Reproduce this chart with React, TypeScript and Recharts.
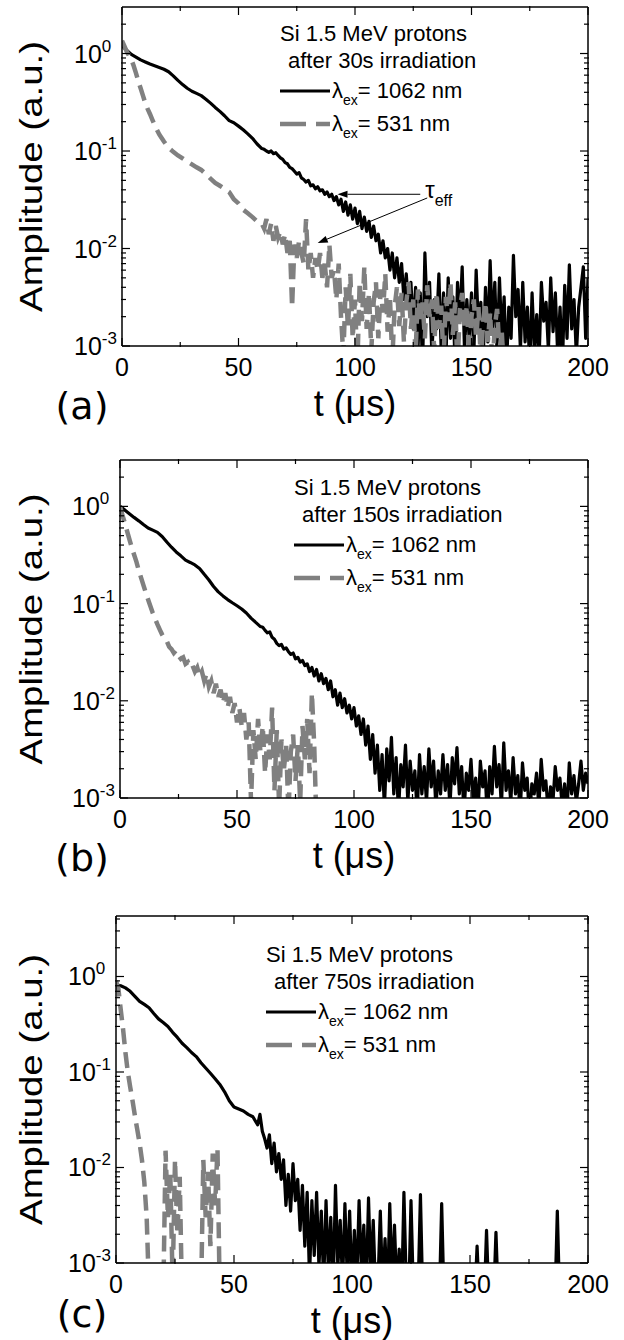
import { LineChart, Line, XAxis, YAxis, Legend, Label, ReferenceLine } from "recharts";

const FONT = '"Liberation Sans", Arial, Helvetica, sans-serif';
const W = 624;
const H = 440;

// ticks
const X_MAJOR = [0, 50, 100, 150, 200];
const X_MINOR = [25, 75, 125, 175];
const Y_MAJOR = [0.001, 0.01, 0.1, 1];
const Y_MINOR = [
  0.002, 0.003, 0.004, 0.005, 0.006, 0.007, 0.008, 0.009,
  0.02, 0.03, 0.04, 0.05, 0.06, 0.07, 0.08, 0.09,
  0.2, 0.3, 0.4, 0.5, 0.6, 0.7, 0.8, 0.9,
  2, 3, 4,
];

type Pt = { t: number; a: number };
const pairs = (p: number[][]): Pt[] => p.map(([t, a]) => ({ t, a }));
const steps = (t0: number, vals: number[]): Pt[] => vals.map((a, i) => ({ t: t0 + i, a }));

// ---------- (a) 30 s ----------
const A1062_head = [
  [0, 1.2], [2, 1.08], [4, 0.98], [6, 0.92], [8, 0.86], [10, 0.82], [12, 0.78], [14, 0.75], [16, 0.72],
  [18, 0.69], [20, 0.65], [22, 0.59], [24, 0.53], [26, 0.48], [28, 0.44], [30, 0.41], [32, 0.39], [34, 0.37],
  [36, 0.34], [38, 0.31], [40, 0.28], [42, 0.255], [44, 0.23], [46, 0.205], [48, 0.195], [50, 0.18],
  [52, 0.165], [54, 0.15], [56, 0.135], [58, 0.118], [60, 0.106],
];
const A1062_tail = [
  0.104, 0.1, 0.097, 0.1, 0.094, 0.096, 0.09, 0.085, 0.082, 0.076,
  0.074, 0.068, 0.066, 0.062, 0.058, 0.06, 0.053, 0.051, 0.048, 0.05,
  0.044, 0.045, 0.041, 0.043, 0.039, 0.04, 0.036, 0.038, 0.034, 0.036,
  0.031, 0.034, 0.028, 0.032, 0.024, 0.03, 0.022, 0.028, 0.02, 0.026,
  0.018, 0.024, 0.016, 0.021, 0.015, 0.019, 0.013, 0.017, 0.012, 0.014,
  0.009, 0.012, 0.008, 0.01, 0.006, 0.009, 0.005, 0.008, 0.0045, 0.007,
  0.003, 0.0055, 0.0025, 0.0045, 0.0015, 0.004, 0.0009, 0.0035, 0.0006, 0.009,
  0.002, 0.0045, 0.0008, 0.003, 0.0015, 0.0055, 0.0009, 0.0035, 0.0007, 0.005,
  0.0012, 0.0032, 0.0006, 0.0045, 0.0018, 0.0065, 0.0009, 0.003, 0.0012, 0.0035,
  0.0008, 0.006, 0.0015, 0.0028, 0.0007, 0.004, 0.0011, 0.0075, 0.0015, 0.0045,
  0.0008, 0.005, 0.0012, 0.0032, 0.0006, 0.0025, 0.0012, 0.0085, 0.002, 0.0038,
  0.0009, 0.0045, 0.0011, 0.0025, 0.0006, 0.0035, 0.0009, 0.0021, 0.0007, 0.0045,
  0.0018, 0.0028, 0.0009, 0.005, 0.0014, 0.0035, 0.0008, 0.0025, 0.0006, 0.0042,
  0.0012, 0.0068, 0.0015, 0.003, 0.0008, 0.0025, 0.004, 0.0065, 0.0012, 0.005,
];
const A531_head = [
  [0, 1.35], [1, 1.2], [2, 1.05], [3, 0.95], [4, 0.87], [5, 0.75], [6, 0.63], [7, 0.52], [8, 0.44],
  [9, 0.37], [10, 0.31], [11, 0.27], [12, 0.24], [13, 0.21], [14, 0.185], [15, 0.165], [16, 0.148],
  [18, 0.125], [20, 0.108], [22, 0.098], [24, 0.09], [26, 0.084], [28, 0.078], [30, 0.073], [32, 0.068],
  [34, 0.064], [36, 0.058], [38, 0.052], [40, 0.047], [42, 0.044], [44, 0.041], [46, 0.038], [48, 0.032],
  [50, 0.029], [52, 0.025], [54, 0.023], [56, 0.021], [58, 0.019], [60, 0.018],
];
const A531_tail = [
  0.016, 0.02, 0.014, 0.018, 0.012, 0.017, 0.013, 0.015, 0.011, 0.014,
  0.009, 0.012, 0.0025, 0.011, 0.008, 0.012, 0.009, 0.007, 0.02, 0.006,
  0.009, 0.005, 0.008, 0.006, 0.009, 0.005, 0.007, 0.004, 0.011, 0.005,
  0.006, 0.003, 0.007, 0.002, 0.0008, 0.004, 0.0015, 0.0055, 0.0012, 0.003,
  0.0006, 0.0045, 0.0018, 0.0065, 0.0015, 0.0035, 0.0009, 0.0028, 0.0045, 0.0012,
  0.0038, 0.0022, 0.0055, 0.0014, 0.0032, 0.0007, 0.0025, 0.004, 0.0016, 0.0035,
  0.0011, 0.0028, 0.0045, 0.0015, 0.003, 0.0008, 0.0038, 0.0018, 0.0028, 0.0012,
  0.0042, 0.002, 0.003, 0.0009, 0.0035, 0.0015, 0.0026, 0.0007, 0.0032, 0.0018,
  0.0045, 0.0013, 0.0028, 0.0006, 0.0024, 0.0035, 0.0015, 0.0026, 0.0008, 0.002,
  0.003, 0.0012, 0.0025, 0.0007, 0.0018, 0.0028, 0.0011, 0.0022, 0.0006, 0.0016,
  0.0024, 0.0009, 0.0014, 0.0005,
];

// ---------- (b) 150 s ----------
const B1062_head = [
  [0, 1.0], [2, 0.92], [4, 0.84], [6, 0.77], [8, 0.71], [10, 0.65], [12, 0.6], [14, 0.57], [16, 0.54],
  [18, 0.49], [20, 0.43], [22, 0.38], [24, 0.34], [26, 0.31], [28, 0.28], [30, 0.265], [32, 0.25], [34, 0.23],
  [36, 0.2], [38, 0.175], [40, 0.15], [42, 0.132], [44, 0.12], [46, 0.11], [48, 0.102], [50, 0.095],
  [52, 0.088], [54, 0.08], [56, 0.071], [58, 0.064], [60, 0.058],
];
const B1062_tail = [
  0.057, 0.053, 0.05, 0.051, 0.045, 0.043, 0.039, 0.037, 0.038, 0.034,
  0.035, 0.032, 0.03, 0.031, 0.027, 0.028, 0.025, 0.026, 0.023, 0.024,
  0.02, 0.022, 0.018, 0.021, 0.016, 0.019, 0.015, 0.017, 0.013, 0.016,
  0.011, 0.013, 0.009, 0.012, 0.0085, 0.0105, 0.0075, 0.009, 0.0065, 0.0085,
  0.0055, 0.007, 0.0045, 0.0065, 0.0035, 0.0055, 0.0025, 0.0045, 0.0018, 0.0035,
  0.0012, 0.0028, 0.0008, 0.0032, 0.0015, 0.0042, 0.0011, 0.0026, 0.0007, 0.0022,
  0.0013, 0.0035, 0.0009, 0.0024, 0.0012, 0.0019, 0.0007, 0.0028, 0.0011, 0.0021,
  0.0009, 0.0032, 0.0013, 0.0024, 0.0008, 0.0019, 0.0011, 0.0028, 0.0012, 0.0022,
  0.0008, 0.0026, 0.0014, 0.0033, 0.0011, 0.0021, 0.0007, 0.0018, 0.0012, 0.0025,
  0.0009, 0.0016, 0.0007, 0.0024, 0.0013, 0.0019, 0.0006, 0.0021, 0.0011, 0.0034,
  0.0013, 0.0022, 0.0008, 0.0037, 0.0012, 0.0019, 0.0009, 0.0026, 0.0011, 0.0017,
  0.0007, 0.0023, 0.0012, 0.0016, 0.0006, 0.0014, 0.0011, 0.0018, 0.0008, 0.0025,
  0.0012, 0.0015, 0.0007, 0.0013, 0.0009, 0.0021, 0.0012, 0.0016, 0.0008, 0.0014,
  0.0007, 0.0023, 0.0011, 0.0017, 0.0009, 0.0014, 0.0024, 0.0012, 0.0018, 0.0014,
];
const B531_vals = [
  1.0, 0.82, 0.68, 0.56, 0.46, 0.38, 0.32, 0.27, 0.22, 0.185,
  0.155, 0.13, 0.11, 0.094, 0.08, 0.07, 0.061, 0.054, 0.048, 0.044,
  0.041, 0.036, 0.034, 0.031, 0.033, 0.029, 0.027, 0.028, 0.024, 0.025,
  0.022, 0.023, 0.02, 0.022, 0.018, 0.02, 0.016, 0.019, 0.014, 0.016,
  0.012, 0.015, 0.011, 0.013, 0.0095, 0.012, 0.0085, 0.011, 0.0075, 0.0095,
  0.006, 0.0085, 0.0055, 0.0075, 0.004, 0.006, 0.0009, 0.005, 0.0025, 0.0065,
  0.003, 0.0055, 0.0018, 0.0045, 0.0025, 0.0085, 0.0012, 0.005, 0.0008, 0.004,
  0.0019, 0.0035, 0.0007, 0.003, 0.0045, 0.0015, 0.0035, 0.0009, 0.0055, 0.0025,
  0.0065, 0.0018, 0.012, 0.0035, 0.0005,
];

// ---------- (c) 750 s ----------
const C1062_head = [
  [0, 0.82], [2, 0.8], [4, 0.76], [6, 0.7], [8, 0.62], [10, 0.55], [12, 0.51], [14, 0.47], [16, 0.41],
  [18, 0.36], [20, 0.33], [22, 0.3], [24, 0.26], [26, 0.23], [28, 0.2], [30, 0.18], [32, 0.16], [34, 0.145],
  [36, 0.125], [38, 0.11], [40, 0.097], [42, 0.085], [44, 0.074], [46, 0.062], [48, 0.05], [50, 0.043],
  [52, 0.041], [54, 0.039], [56, 0.036], [58, 0.034], [60, 0.028],
];
const C1062_tail = [
  0.036, 0.024, 0.02, 0.016, 0.022, 0.011, 0.018, 0.009, 0.014, 0.0075,
  0.012, 0.004, 0.0085, 0.0035, 0.011, 0.0045, 0.0075, 0.0022, 0.0065, 0.0015,
  0.0055, 0.0007, 0.0045, 0.0012, 0.0055, 0.0009, 0.0035, 0.0006, 0.0045, 0.0008,
  0.003, 0.0005, 0.0065, 0.0009, 0.0028, 0.0006, 0.0042, 0.0007, 0.0035, 0.0005,
  0.0022, 0.0006, 0.0045, 0.0008, 0.0025, 0.0005, 0.0048, 0.0007, 0.0028, 0.0005,
  0.0006, 0.0035, 0.0005, 0.0018, 0.0004, 0.0042, 0.0006, 0.0025, 0.0005, 0.0014,
  0.0004, 0.0055, 0.0006, 0.0004, 0.0045, 0.0005, 0.0004, 0.0005, 0.0052, 0.0004,
];
const C1062_spikes = [
  [137, 0.0004], [138, 0.0042], [139, 0.0004], [152, 0.0004], [153, 0.0015], [154, 0.0004],
  [156, 0.0004], [157, 0.0022], [158, 0.0004], [160, 0.0004], [161, 0.0021], [162, 0.0004],
  [186, 0.0004], [187, 0.0035], [188, 0.0004], [200, 0.0004],
];
const C531_vals = [
  0.9, 0.75, 0.45, 0.28, 0.16, 0.1, 0.07, 0.05, 0.035, 0.025,
  0.018, 0.012, 0.007, 0.003, 0.0005, 0.0004, 0.0004, 0.0004, 0.0004, 0.0004,
  0.0004, 0.015, 0.003, 0.009, 0.0006, 0.012, 0.002, 0.008, 0.0004, 0.0004,
  0.0004, 0.0004, 0.0004, 0.0004, 0.0004, 0.0004, 0.0004, 0.012, 0.003, 0.009,
  0.0015, 0.014, 0.004, 0.016, 0.0004,
];

// tau_eff arrows (panel a), data coords
const TAU_ARROWS = [
  { from: { x: 128, y: 0.036 }, to: { x: 92.5, y: 0.036 } },
  { from: { x: 131, y: 0.033 }, to: { x: 84, y: 0.0114 } },
];

// mt/mb/ml are the plot box edges minus the 2px taken by the stacked tick axes
const PANELS = [
  {
    letter: "(a)", dose: "30s", top: 0, mt: 5, mb: 92, ml: 120, yMax: 3, legendLeft: 280, legendTop: 20, letterDy: 60,
    black: [...pairs(A1062_head), ...steps(61, A1062_tail)],
    gray: [...pairs(A531_head), ...steps(61, A531_tail)],
    tau: true,
  },
  {
    letter: "(b)", dose: "150s", top: 450, mt: 8, mb: 90, ml: 118, yMax: 3, legendLeft: 294, legendTop: 24, letterDy: 60,
    black: [...pairs(B1062_head), ...steps(61, B1062_tail)],
    gray: steps(0, B531_vals),
    tau: false,
  },
  {
    letter: "(c)", dose: "750s", top: 900, mt: 14, mb: 75, ml: 114, yMax: 4.3, legendLeft: 266, legendTop: 41, letterDy: 51,
    black: [...pairs(C1062_head), ...steps(61, C1062_tail), ...pairs(C1062_spikes)],
    gray: steps(0, C531_vals),
    tau: false,
  },
];

const axisStyle = { stroke: "#000", strokeWidth: 1.5 };
const tickStyle = { stroke: "#000", strokeWidth: 1.2 };

const NoTick = () => null;

const XTick = (p: any) => (
  <text x={p.x} y={p.y} textAnchor="middle" dominantBaseline="central" fontFamily={FONT} fontSize={25} fill="#000">
    {p.payload.value}
  </text>
);

const YTick = (p: any) => {
  const e = Math.round(Math.log10(p.payload.value));
  return (
    <text x={p.x} y={p.y} dy={9} textAnchor="start" fontFamily={FONT} fontSize={25} fill="#000">
      10<tspan fontSize={17} dy={-11}>{e}</tspan>
    </text>
  );
};

const YTitle = (p: any) => {
  const vb = p.viewBox;
  const cy = vb.y + vb.height / 2;
  return (
    <text
      transform={`translate(31,${cy}) rotate(-90) scale(1.2,1)`}
      textAnchor="middle" dominantBaseline="central" fontFamily={FONT} fontSize={32} fill="#000"
    >
      Amplitude (a.u.)
    </text>
  );
};

const makeXTitle = (letter: string, letterDy: number) => (p: any) => {
  const vb = p.viewBox;
  return (
    <g>
      <text x={vb.x + vb.width / 2} y={vb.y + 57} textAnchor="middle" dominantBaseline="central" fontFamily={FONT} fontSize={36} fill="#000">
        t (μs)
      </text>
      <text x={82} y={vb.y + letterDy} textAnchor="middle" dominantBaseline="central" fontFamily='"DejaVu Sans", sans-serif' fontSize={38} fill="#000">
        {letter}
      </text>
    </g>
  );
};

// arrow for tau_eff
const Arrow = (p: any) => {
  const { x1, y1, x2, y2, tau } = p;
  const ang = Math.atan2(y2 - y1, x2 - x1);
  const L = 10, hw = 3.5;
  const bx = x2 - L * Math.cos(ang), by = y2 - L * Math.sin(ang);
  const px = -Math.sin(ang) * hw, py = Math.cos(ang) * hw;
  return (
    <g>
      <line x1={x1} y1={y1} x2={bx} y2={by} stroke="#000" strokeWidth={1} />
      <polygon points={`${x2},${y2} ${bx + px},${by + py} ${bx - px},${by - py}`} fill="#000" />
      {tau && (
        <text x={x1 + 5} y={y1 + 4} fontFamily={FONT} fontSize={24} fill="#000">
          τ<tspan fontSize={16} dy={8}>eff</tspan>
        </text>
      )}
    </g>
  );
};

const LegendBox = ({ payload, dose }: any) => (
  <div style={{ fontFamily: FONT, fontSize: 22, color: "#000", lineHeight: "27px", whiteSpace: "nowrap" }}>
    <div>Si 1.5 MeV protons</div>
    <div style={{ paddingLeft: 8 }}>after {dose} irradiation</div>
    {(payload || []).map((e: any) => (
      <div key={e.value} style={{ display: "flex", alignItems: "center", height: 33 }}>
        <svg width={50} height={12} style={{ marginRight: 2 }}>
          <line
            x1={0} y1={6} x2={50} y2={6}
            stroke={e.color}
            strokeWidth={e.payload?.strokeWidth ?? 3}
            strokeDasharray={e.payload?.strokeDasharray ? "26 10" : undefined}
          />
        </svg>
        <span>
          λ<sub style={{ fontSize: 14, verticalAlign: "-7px", lineHeight: 0 }}>ex</sub>= {e.value}
        </span>
      </div>
    ))}
  </div>
);

function Panel({ cfg }: { cfg: any }) {
  const minorY = Y_MINOR.filter((v) => v < cfg.yMax * 0.98);
  const yDomain = [0.001, cfg.yMax];
  return (
    <div style={{ position: "absolute", left: 0, top: cfg.top, width: W, height: H }}>
      <LineChart width={W} height={H} margin={{ top: cfg.mt, right: 34, bottom: cfg.mb, left: cfg.ml }}>
        <XAxis
          xAxisId="x" type="number" dataKey="t" domain={[0, 200]} allowDataOverflow
          ticks={X_MAJOR} interval={0} height={1} tickSize={-8} tickMargin={29}
          tick={<XTick />} axisLine={axisStyle} tickLine={tickStyle}
        >
          <Label content={makeXTitle(cfg.letter, cfg.letterDy)} />
        </XAxis>
        <XAxis
          xAxisId="xm" type="number" dataKey="t" domain={[0, 200]} allowDataOverflow
          ticks={X_MINOR} interval={0} height={1} tickSize={-5} tick={NoTick} axisLine={false} tickLine={tickStyle}
        />
        <XAxis
          xAxisId="xt" orientation="top" type="number" dataKey="t" domain={[0, 200]} allowDataOverflow
          ticks={X_MAJOR} interval={0} height={1} tickSize={-8} tick={NoTick} axisLine={axisStyle} tickLine={tickStyle}
        />
        <XAxis
          xAxisId="xtm" orientation="top" type="number" dataKey="t" domain={[0, 200]} allowDataOverflow
          ticks={X_MINOR} interval={0} height={1} tickSize={-5} tick={NoTick} axisLine={false} tickLine={tickStyle}
        />
        <YAxis
          yAxisId="y" scale="log" type="number" dataKey="a" domain={yDomain} allowDataOverflow
          ticks={Y_MAJOR} interval={0} width={1} tickSize={-8} tickMargin={56}
          tick={<YTick />} axisLine={axisStyle} tickLine={tickStyle}
        >
          <Label content={YTitle} />
        </YAxis>
        <YAxis
          yAxisId="ym" scale="log" type="number" domain={yDomain} allowDataOverflow
          ticks={minorY} interval={0} width={1} tickSize={-5} tick={NoTick} axisLine={false} tickLine={tickStyle}
        />
        <YAxis
          yAxisId="yr" orientation="right" scale="log" type="number" domain={yDomain} allowDataOverflow
          ticks={Y_MAJOR} interval={0} width={1} tickSize={-8} tick={NoTick} axisLine={axisStyle} tickLine={tickStyle}
        />
        <YAxis
          yAxisId="yrm" orientation="right" scale="log" type="number" domain={yDomain} allowDataOverflow
          ticks={minorY} interval={0} width={1} tickSize={-5} tick={NoTick} axisLine={false} tickLine={tickStyle}
        />
        <Line
          xAxisId="x" yAxisId="y" data={cfg.black} dataKey="a" name="1062 nm" type="linear"
          stroke="#000" strokeWidth={3.2} strokeLinejoin="round" dot={false} activeDot={false} isAnimationActive={false}
        />
        <Line
          xAxisId="x" yAxisId="y" data={cfg.gray} dataKey="a" name="531 nm" type="linear"
          stroke="#808080" strokeWidth={4.5} strokeDasharray="16 8" dot={false} activeDot={false} isAnimationActive={false}
        />
        {cfg.tau &&
          TAU_ARROWS.map((ar, i) => (
            <ReferenceLine
              key={i} xAxisId="x" yAxisId="y" ifOverflow="visible"
              segment={[ar.from, ar.to]}
              shape={(p: any) => <Arrow {...p} tau={i === 0} />}
            />
          ))}
        <Legend
          layout="vertical" align="center" verticalAlign="middle"
          wrapperStyle={{ left: cfg.legendLeft, top: cfg.legendTop, width: 230, height: "auto" }}
          content={(props: any) => <LegendBox payload={props.payload} dose={cfg.dose} />}
        />
      </LineChart>
    </div>
  );
}

export default function App() {
  return (
    <div style={{ position: "absolute", left: 0, top: 0, width: W, height: 1340, background: "#fff", overflow: "hidden" }}>
      {PANELS.map((cfg) => (
        <Panel key={cfg.letter} cfg={cfg} />
      ))}
    </div>
  );
}
